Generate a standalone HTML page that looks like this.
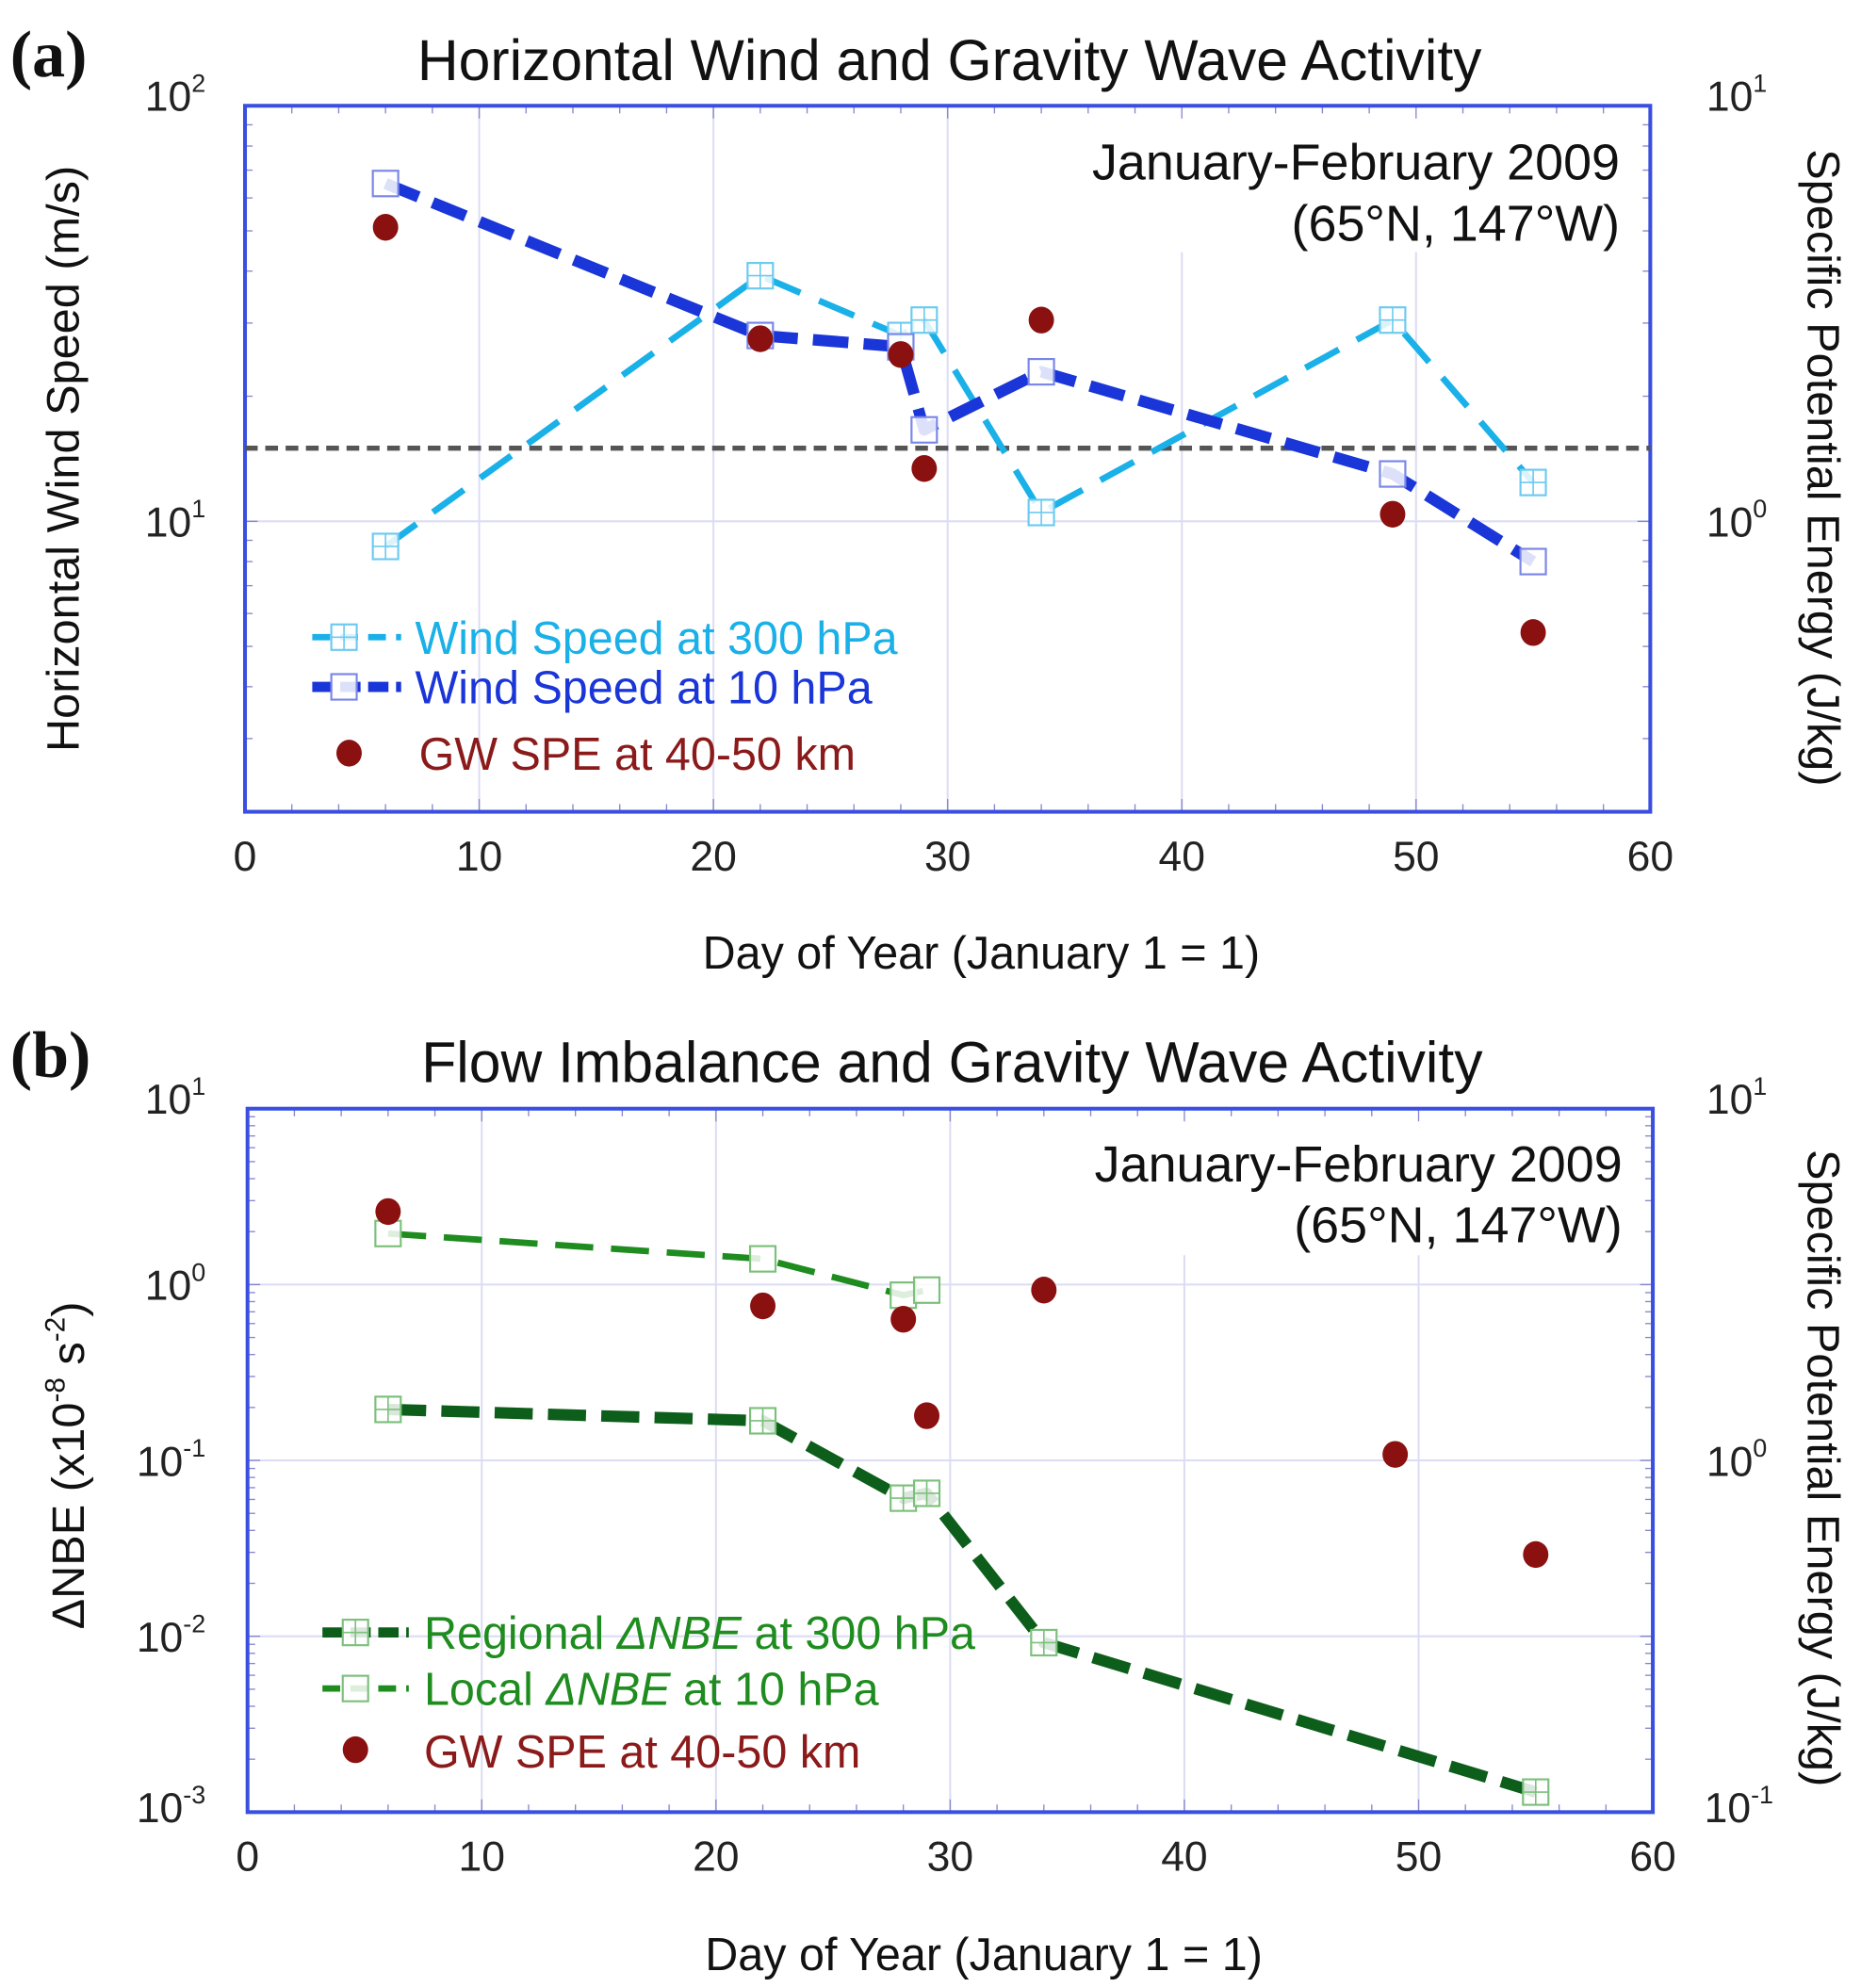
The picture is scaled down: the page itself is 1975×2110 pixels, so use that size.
<!DOCTYPE html>
<html><head><meta charset="utf-8">
<style>
html,body{margin:0;padding:0;background:#fff;}
svg{display:block;font-family:"Liberation Sans",sans-serif;}
</style></head>
<body>
<svg id="fig" width="1975" height="2110" viewBox="0 0 1466 1560" preserveAspectRatio="none" xmlns="http://www.w3.org/2000/svg">
  <g id="pa"></g>
  <g id="pb"></g>
</svg>
<script>
// ---- Panel (a) data ----
const daysA300 = [6, 22, 28, 29, 34, 49, 55];
const wind300 = [8.7, 39, 28, 30.5, 10.5, 30.5, 12.4];
const daysA10 = [6, 22, 28, 29, 34, 49, 55];
const wind10 = [65, 28, 26.3, 16.6, 22.9, 13, 8];
const speDays = [6, 22, 28, 29, 34, 49, 55];
const speValues = [5.1, 2.75, 2.52, 1.34, 3.05, 1.04, 0.54];
const thresholdWind = 15;
// ---- Panel (b) data ----
const daysLocal = [6, 22, 28, 29];
const localNBE = [1.95, 1.4, 0.87, 0.93];
const daysRegional = [6, 22, 28, 29, 34, 55];
const regionalNBE = [0.195, 0.168, 0.061, 0.065, 0.0092, 0.0013];
const xTicks = [0, 10, 20, 30, 40, 50, 60];

const NS = "http://www.w3.org/2000/svg";
function mk(parent, tag, attrs, text) {
  const e = document.createElementNS(NS, tag);
  for (const k in attrs) e.setAttribute(k, attrs[k]);
  if (text !== undefined) e.textContent = text;
  parent.appendChild(e);
  return e;
}

function panel(g, cfg) {
  const L = cfg.L, R = cfg.R, T = cfg.T, B = cfg.B;
  const xs = d => L + (d - 0) / 60 * (R - L);
  const ys = v => B - (Math.log10(v) - cfg.lmin) / (cfg.lmax - cfg.lmin) * (B - T);
  const yr = v => B - (Math.log10(v) - cfg.rmin) / (cfg.rmax - cfg.rmin) * (B - T);
  const grid = mk(g, "g", {});
  
  
  xTicks.forEach(t => {
    if (t > 0 && t < 60) {
      const top = (cfg.gridTopCut && t >= 40) ? cfg.gridTopCut : T;
      const l = mk(grid, "line", {x1: xs(t), x2: xs(t), y1: top, y2: B, stroke: "#dcdcf4", "stroke-width": 1.5});
      
      
    }
  });
  for (let p = Math.ceil(cfg.lmin); p <= Math.floor(cfg.lmax); p++) {
    const yy = ys(Math.pow(10, p));
    if (yy < T + 2 || yy > B - 2) continue;
    const l = mk(grid, "line", {x1: L, x2: R, y1: yy, y2: yy, stroke: "#dcdcf4", "stroke-width": 1.5});
    
    
  }
  for (let d = 2; d < 60; d += 2) {
    const len = d % 10 === 0 ? 10 : 6;
    mk(grid, "line", {x1: xs(d), x2: xs(d), y1: B, y2: B - len, stroke: "#8888cc", "stroke-width": 1});
    mk(grid, "line", {x1: xs(d), x2: xs(d), y1: T, y2: T + len, stroke: "#8888cc", "stroke-width": 1});
  }
  for (let p = Math.floor(cfg.lmin); p < cfg.lmax; p++) {
    for (let m = 1; m < 10; m++) {
      const v = m * Math.pow(10, p);
      const yy = ys(v);
      if (yy < T - 0.5 || yy > B + 0.5) continue;
      const len = m === 1 ? 10 : 6;
      mk(grid, "line", {x1: L, x2: L + len, y1: yy, y2: yy, stroke: "#8888cc", "stroke-width": 1});
      mk(grid, "line", {x1: R, x2: R - len, y1: yy, y2: yy, stroke: "#8888cc", "stroke-width": 1});
    }
  }
  const fr = mk(g, "rect", {x: L, y: T, width: R - L, height: B - T, fill: "none", stroke: "#3a4fe0", "stroke-width": 3});
  
  
  xTicks.forEach(t => {
    const tx = mk(g, "text", {x: xs(t), y: B + 46, "font-size": 33, "text-anchor": "middle", fill: "#222"}, String(t));
    
    
  });
  return {xs, ys, yr};
}

function drawLine(g, xArr, vals, sc, yfun, color, width, dash, name) {
  const pts = xArr.map((d, i) => sc.xs(d) + "," + yfun(vals[i])).join(" ");
  const pl = mk(g, "polyline", {points: pts, fill: "none", stroke: color, "stroke-width": width, "stroke-dasharray": dash, "stroke-linejoin": "round"});
  
  
}
function sq(g, x, y, color, cross, name, size) {
  const s = size || 20;
  const grp = mk(g, "g", {});
  
  
  mk(grp, "rect", {x: x - s / 2, y: y - s / 2, width: s, height: s, fill: "#fff", "fill-opacity": 0.85, stroke: color, "stroke-width": 1.6});
  if (cross) {
    mk(grp, "line", {x1: x, x2: x, y1: y - s / 2, y2: y + s / 2, stroke: color, "stroke-width": 1.2});
    mk(grp, "line", {x1: x - s / 2, x2: x + s / 2, y1: y, y2: y, stroke: color, "stroke-width": 1.2});
  }
}
function dot(g, x, y, name) {
  const c = mk(g, "ellipse", {cx: x, cy: y, rx: 10, ry: 10.5, fill: "#8b1010"});
  
  
}
function txt(g, attrs, s, name) {
  const t = mk(g, "text", attrs, s);
  
  
  return t;
}
function manualY(g, x, y, exp, name) {
  const t = mk(g, "text", {x: x, y: y, "font-size": 33, "text-anchor": "end", fill: "#222"});
  mk(t, "tspan", {}, "10");
  mk(t, "tspan", {"font-size": 20, dy: -15}, exp);
  
  
}

// ===== Panel A =====
const ga = document.getElementById("pa");
const sa = panel(ga, {L: 193, R: 1300, T: 83, B: 637, lmin: 0.30103, lmax: 2, rmin: -0.69897, rmax: 1, gridTopCut: 198});
manualY(ga, 162, sa.ys(100) + 4, "2", 'left-y-tick-label');
manualY(ga, 162, sa.ys(10) + 12, "1", 'left-y-tick-label');
manualY(ga, 1392, sa.yr(10) + 4, "1", 'right-y-tick-label');
manualY(ga, 1392, sa.yr(1) + 12, "0", 'right-y-tick-label');
txt(ga, {x: 8, y: 60, "font-size": 52, "font-weight": "bold", "font-family": "Liberation Serif, serif", fill: "#111"}, "(a)", 'panel-a-label');
txt(ga, {x: 748, y: 63, "font-size": 45, "text-anchor": "middle", fill: "#111"}, "Horizontal Wind and Gravity Wave Activity", 'chart-title');
txt(ga, {x: 1276, y: 141, "font-size": 40, "text-anchor": "end", fill: "#111"}, "January-February 2009", 'annotation-period');
txt(ga, {x: 1276, y: 189, "font-size": 40, "text-anchor": "end", fill: "#111"}, "(65°N, 147°W)", 'annotation-location');
txt(ga, {x: 0, y: 0, "font-size": 36, "text-anchor": "middle", fill: "#111", transform: "translate(62,360) rotate(-90)"}, "Horizontal Wind Speed (m/s)", 'y-axis-title');
txt(ga, {x: 0, y: 0, "font-size": 36, "text-anchor": "middle", fill: "#111", transform: "translate(1424,367) rotate(90)"}, "Specific Potential Energy (J/kg)", 'right-y-axis-title');
txt(ga, {x: 773, y: 760, "font-size": 36, "text-anchor": "middle", fill: "#111"}, "Day of Year (January 1 = 1)", 'x-axis-title');
const thr = mk(ga, "line", {x1: 193, x2: 1300, y1: sa.ys(thresholdWind), y2: sa.ys(thresholdWind), stroke: "#555", "stroke-width": 4, "stroke-dasharray": "10 6"});


drawLine(ga, daysA300, wind300, sa, sa.ys, "#1ab0e8", 5, "30 16", 'wind-300hpa-line');
drawLine(ga, daysA10, wind10, sa, sa.ys, "#1a35d8", 9, "28 12", 'wind-10hpa-line');
daysA300.forEach((d, i) => sq(ga, sa.xs(d), sa.ys(wind300[i]), "#6ccaf0", true, 'wind-300hpa-marker'));
daysA10.forEach((d, i) => sq(ga, sa.xs(d), sa.ys(wind10[i]), "#7a86e8", false, 'wind-10hpa-marker'));
speDays.forEach((d, i) => dot(ga, sa.xs(d), sa.yr(speValues[i]), 'spe-point'));
const lga = mk(ga, "g", {});


mk(lga, "line", {x1: 246, x2: 316, y1: 500, y2: 500, stroke: "#1ab0e8", "stroke-width": 5, "stroke-dasharray": "14 8"});
sq(lga, 271, 500, "#6ccaf0", true, 'legend-marker-300hpa');
txt(lga, {x: 327, y: 513, "font-size": 36, fill: "#1ab0e8"}, "Wind Speed at 300 hPa", 'legend-entry-300hpa');
mk(lga, "line", {x1: 246, x2: 316, y1: 539, y2: 539, stroke: "#1a35d8", "stroke-width": 8, "stroke-dasharray": "16 6"});
sq(lga, 271, 539, "#7a86e8", false, 'legend-marker-10hpa');
txt(lga, {x: 327, y: 552, "font-size": 36, fill: "#1a35d8"}, "Wind Speed at 10 hPa", 'legend-entry-10hpa');
dot(lga, 275, 591, 'legend-marker-spe');
txt(lga, {x: 330, y: 604, "font-size": 36, fill: "#8b1a1a"}, "GW SPE at 40-50 km", 'legend-entry-spe');

// ===== Panel B =====
const gb = document.getElementById("pb");
const sb = panel(gb, {L: 195, R: 1302, T: 870, B: 1422, lmin: -3, lmax: 1, rmin: -1, rmax: 1, gridTopCut: 985});
["1", "0", "-1", "-2", "-3"].forEach((e, i) => {
  const p = 1 - i;
  manualY(gb, 162, sb.ys(Math.pow(10, p)) + (p === 1 ? 4 : 12) - (p === -3 ? 4 : 0), e, 'left-y-tick-label');
});
manualY(gb, 1392, sb.yr(10) + 4, "1", 'right-y-tick-label');
manualY(gb, 1392, sb.yr(1) + 12, "0", 'right-y-tick-label');
manualY(gb, 1397, sb.yr(0.1) + 8, "-1", 'right-y-tick-label');
txt(gb, {x: 8, y: 845, "font-size": 52, "font-weight": "bold", "font-family": "Liberation Serif, serif", fill: "#111"}, "(b)", 'panel-b-label');
txt(gb, {x: 750, y: 849, "font-size": 45, "text-anchor": "middle", fill: "#111"}, "Flow Imbalance and Gravity Wave Activity", 'chart-title');
txt(gb, {x: 1278, y: 927, "font-size": 40, "text-anchor": "end", fill: "#111"}, "January-February 2009", 'annotation-period');
txt(gb, {x: 1278, y: 975, "font-size": 40, "text-anchor": "end", fill: "#111"}, "(65°N, 147°W)", 'annotation-location');
const yt = txt(gb, {x: 0, y: 0, "font-size": 36, "text-anchor": "middle", fill: "#111", transform: "translate(66,1150) rotate(-90)"}, "", 'y-axis-title');
mk(yt, "tspan", {}, "ΔNBE (x10");
mk(yt, "tspan", {"font-size": 22, dy: -15}, "-8");
mk(yt, "tspan", {dy: 15}, " s");
mk(yt, "tspan", {"font-size": 22, dy: -15}, "-2");
mk(yt, "tspan", {dy: 15}, ")");
txt(gb, {x: 0, y: 0, "font-size": 36, "text-anchor": "middle", fill: "#111", transform: "translate(1424,1152) rotate(90)"}, "Specific Potential Energy (J/kg)", 'right-y-axis-title');
txt(gb, {x: 775, y: 1546, "font-size": 36, "text-anchor": "middle", fill: "#111"}, "Day of Year (January 1 = 1)", 'x-axis-title');
drawLine(gb, daysLocal, localNBE, sb, sb.ys, "#1e8c1e", 5, "30 14", 'local-nbe-line');
drawLine(gb, daysRegional, regionalNBE, sb, sb.ys, "#0d5e1a", 9, "30 12", 'regional-nbe-line');
daysLocal.forEach((d, i) => sq(gb, sb.xs(d), sb.ys(localNBE[i]), "#7cc07c", false, 'local-nbe-marker'));
daysRegional.forEach((d, i) => sq(gb, sb.xs(d), sb.ys(regionalNBE[i]), "#7cc07c", true, 'regional-nbe-marker'));
speDays.forEach((d, i) => dot(gb, sb.xs(d), sb.yr(speValues[i]), 'spe-point'));
const lgb = mk(gb, "g", {});


mk(lgb, "line", {x1: 254, x2: 322, y1: 1281, y2: 1281, stroke: "#0d5e1a", "stroke-width": 8, "stroke-dasharray": "16 6"});
sq(lgb, 280, 1281, "#7cc07c", true, 'legend-marker-regional');
const lr = txt(lgb, {x: 334, y: 1294, "font-size": 36, fill: "#1e8c1e"}, "", 'legend-entry-regional');
mk(lr, "tspan", {}, "Regional ");
mk(lr, "tspan", {"font-style": "italic"}, "ΔNBE");
mk(lr, "tspan", {}, " at 300 hPa");
mk(lgb, "line", {x1: 254, x2: 322, y1: 1325, y2: 1325, stroke: "#1e8c1e", "stroke-width": 5, "stroke-dasharray": "14 8"});
sq(lgb, 280, 1325, "#7cc07c", false, 'legend-marker-local');
const ll = txt(lgb, {x: 334, y: 1338, "font-size": 36, fill: "#1e8c1e"}, "", 'legend-entry-local');
mk(ll, "tspan", {}, "Local ");
mk(ll, "tspan", {"font-style": "italic"}, "ΔNBE");
mk(ll, "tspan", {}, " at 10 hPa");
dot(lgb, 280, 1373, 'legend-marker-spe');
txt(lgb, {x: 334, y: 1387, "font-size": 36, fill: "#8b1a1a"}, "GW SPE at 40-50 km", 'legend-entry-spe');
</script>
</body></html>
